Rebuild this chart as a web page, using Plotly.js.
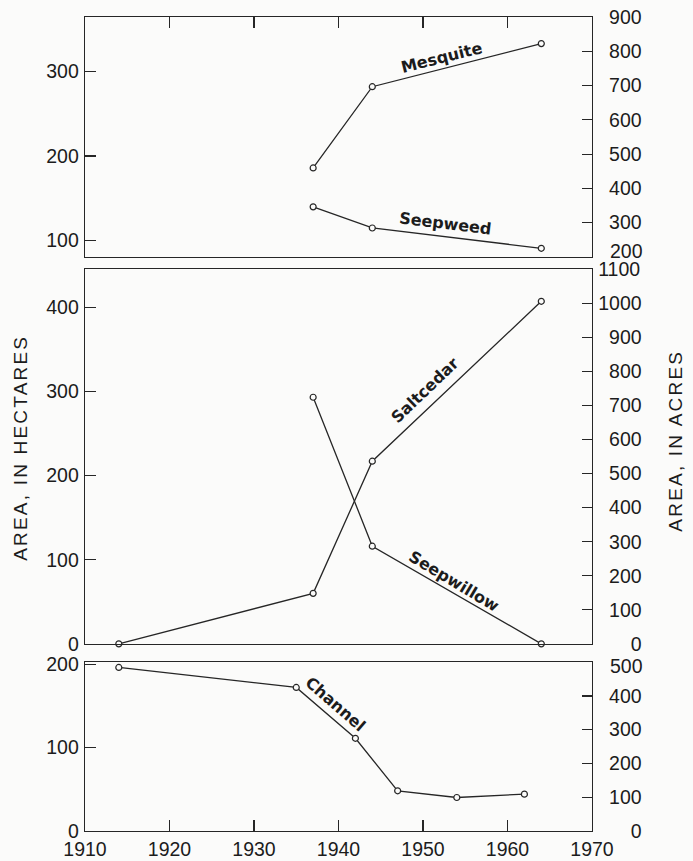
<!DOCTYPE html>
<html>
<head>
<meta charset="utf-8">
<script src="https://cdn.plot.ly/plotly-3.0.1.min.js"></script>
<style>
html,body{margin:0;padding:0;background:#fbfbfa;}
#chart{width:693px;height:861px;}
.annotation[data-index="0"] text, .annotation[data-index="1"] text { letter-spacing: 2.2px; }
</style>
</head>
<body>
<div id="chart"></div>
<script>
// ---- data (area in hectares) ----
const ACRES_PER_HECTARE = 2.471;

const mesquiteYears = [1937, 1944, 1964];
const mesquiteHa = [186, 282, 333];

const seepweedYears = [1937, 1944, 1964];
const seepweedHa = [140, 115, 91];

const saltcedarYears = [1914, 1937, 1944, 1964];
const saltcedarHa = [0, 60, 217, 407];

const seepwillowYears = [1937, 1944, 1964];
const seepwillowHa = [293, 116, 0];

const channelYears = [1914, 1935, 1942, 1947, 1954, 1962];
const channelHa = [196, 172, 111, 48, 40, 44];

const xTicks = [1910, 1920, 1930, 1940, 1950, 1960, 1970];
const topHaTicks = [100, 200, 300];
const topAcreTicks = [200, 300, 400, 500, 600, 700, 800, 900];
const midHaTicks = [0, 100, 200, 300, 400];
const midAcreTicks = [0, 100, 200, 300, 400, 500, 600, 700, 800, 900, 1000, 1100];
const botHaTicks = [0, 100, 200];
const botAcreTicks = [0, 100, 200, 300, 400, 500];

// ---- style ----
const INK = '#262626';
const BG = '#fbfbfa';
const TICKFONT = {family: 'Liberation Sans, Arial, sans-serif', size: 19.5, color: '#1c1c1c'};
const LABELFONT = {family: 'DejaVu Sans, sans-serif', size: 16, color: '#1c1c1c', weight: 'bold'};
const TITLEFONT = {family: 'Liberation Sans, Arial, sans-serif', size: 19, color: '#1c1c1c'};

// right-hand labels are right-aligned in the reference: pad with invisible digits
function padLabel(v) {
  const s = String(v);
  const n = Math.max(0, 4 - s.length);
  return (n ? '<span style="color:rgba(0,0,0,0)">' + '0'.repeat(n) + '</span>' : '') + s;
}

function series(x, y, xa, ya) {
  return {
    x: x, y: y, xaxis: xa, yaxis: ya, type: 'scatter', mode: 'lines+markers',
    line: {color: INK, width: 1.3},
    marker: {symbol: 'circle', size: 6, color: BG, line: {color: INK, width: 1.2}},
    hoverinfo: 'skip', showlegend: false, cliponaxis: false
  };
}
// empty trace so that the secondary (acres) scale of a panel is drawn
function scaleOnly(xa, ya) {
  return {x: [], y: [], xaxis: xa, yaxis: ya, type: 'scatter', mode: 'lines', hoverinfo: 'skip', showlegend: false};
}

const traces = [
  series(channelYears, channelHa, 'x', 'y'),
  series(saltcedarYears, saltcedarHa, 'x2', 'y3'),
  series(seepwillowYears, seepwillowHa, 'x2', 'y3'),
  series(mesquiteYears, mesquiteHa, 'x3', 'y5'),
  series(seepweedYears, seepweedHa, 'x3', 'y5'),
  scaleOnly('x', 'y2'), scaleOnly('x2', 'y4'), scaleOnly('x3', 'y6')
];

function acreRange(lo, hi) { return [lo - 0.5, hi + 0.5]; }
function haRange(r) { return [r[0] / ACRES_PER_HECTARE, r[1] / ACRES_PER_HECTARE]; }

const botAcre = acreRange(0, 500), midAcre = acreRange(0, 1100), topAcre = acreRange(200, 900);

function xAxis(anchor, opts) {
  return Object.assign({
    anchor: anchor, range: [1910, 1970], tickvals: xTicks, showgrid: false, zeroline: false,
    showline: true, linecolor: INK, linewidth: 1.3, mirror: true,
    ticks: '', ticklen: 11, tickwidth: 1.2, tickcolor: INK,
    showticklabels: false, tickfont: TICKFONT, fixedrange: true
  }, opts || {});
}
function yLeft(anchor, domain, range, ticks) {
  return {
    anchor: anchor, domain: domain, range: range, tickvals: ticks, side: 'left',
    showgrid: false, zeroline: false, showline: true, linecolor: INK, linewidth: 1.3, mirror: true,
    ticks: 'inside', ticklen: 11, tickwidth: 1.2, tickcolor: INK,
    tickfont: TICKFONT, ticklabelstandoff: 1, fixedrange: true
  };
}
function yRight(anchor, overlay, range, ticks, hide) {
  return {
    anchor: anchor, overlaying: overlay, range: range, tickvals: ticks,
    ticktext: ticks.map(v => (hide === v ? '' : padLabel(v))), side: 'right',
    showgrid: false, zeroline: false, showline: true, linecolor: INK, linewidth: 1.3,
    ticks: 'inside', ticklen: 10, tickwidth: 1.2, tickcolor: INK,
    tickfont: TICKFONT, ticklabelstandoff: 1, fixedrange: true
  };
}

const layout = {
  width: 693, height: 861,
  margin: {l: 85, r: 101, t: 17, b: 30},
  paper_bgcolor: BG, plot_bgcolor: BG,
  showlegend: false,
  xaxis: xAxis('y', {ticks: 'inside', showticklabels: true, ticklabelstandoff: 0}),
  xaxis2: xAxis('y3'),
  xaxis3: xAxis('y5', {side: 'top', ticks: 'inside'}),
  yaxis: yLeft('x', [0, 0.2076], haRange(botAcre), botHaTicks),
  yaxis2: yRight('x', 'y', botAcre, botAcreTicks, 500),
  yaxis3: yLeft('x2', [0.2297, 0.6904], haRange(midAcre), midHaTicks),
  yaxis4: yRight('x2', 'y3', midAcre, midAcreTicks),
  yaxis5: yLeft('x3', [0.7052, 1], haRange(topAcre), topHaTicks),
  yaxis6: yRight('x3', 'y5', topAcre, topAcreTicks, 200),
  annotations: [
    {text: 'AREA, IN HECTARES', xref: 'paper', yref: 'paper', x: -0.128, y: 0.4705,
     textangle: -90, showarrow: false, xanchor: 'center', yanchor: 'middle', font: TITLEFONT},
    {text: 'AREA, IN ACRES', xref: 'paper', yref: 'paper', x: 1.164, y: 0.479,
     textangle: -90, showarrow: false, xanchor: 'center', yanchor: 'middle', font: TITLEFONT},
    {text: 'Mesquite', xref: 'x3', yref: 'y5', x: 1952.2, y: 317, textangle: -14, showarrow: false, font: LABELFONT},
    {text: 'Seepweed', xref: 'x3', yref: 'y5', x: 1952.7, y: 120, textangle: 7, showarrow: false, font: LABELFONT},
    {text: 'Saltcedar', xref: 'x2', yref: 'y3', x: 1950.2, y: 301, textangle: -44, showarrow: false, font: LABELFONT},
    {text: 'Seepwillow', xref: 'x2', yref: 'y3', x: 1953.7, y: 74, textangle: 31, showarrow: false, font: LABELFONT},
    {text: 'Channel', xref: 'x', yref: 'y', x: 1939.7, y: 152, textangle: 41, showarrow: false, font: LABELFONT},
    // crowded end labels of the acres scales, nudged apart as in the reference
    {text: '200', xref: 'paper', yref: 'y6', x: 1, y: 200, xanchor: 'right', yanchor: 'middle',
     xshift: 52, yshift: 6, showarrow: false, font: TICKFONT, borderpad: 0},
    {text: '500', xref: 'paper', yref: 'y2', x: 1, y: 500, xanchor: 'right', yanchor: 'middle',
     xshift: 52, yshift: -4, showarrow: false, font: TICKFONT, borderpad: 0}
  ]
};

Plotly.newPlot('chart', traces, layout, {staticPlot: true, displayModeBar: false});
</script>
</body>
</html>
